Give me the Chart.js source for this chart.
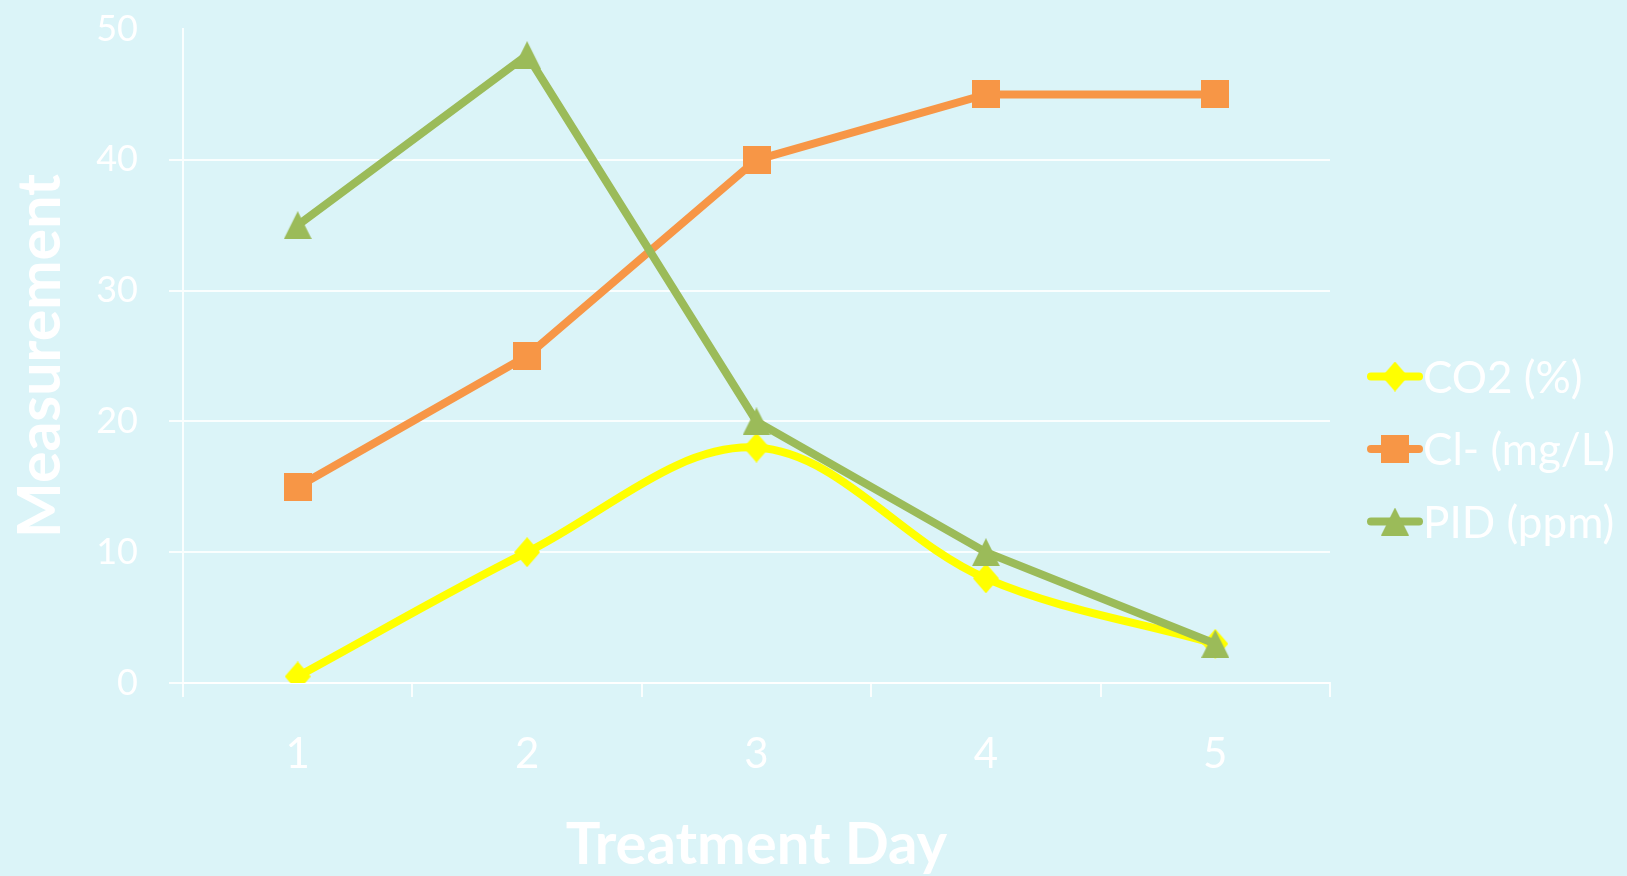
<!DOCTYPE html>
<html>
<head>
<meta charset="utf-8">
<script src="https://cdn.jsdelivr.net/npm/chart.js@4.4.1/dist/chart.umd.min.js"></script>
<style>
  html, body { margin: 0; padding: 0; background: #DBF4F8; }
  #wrap { width: 1627px; height: 876px; }
</style>
</head>
<body>
<div id="wrap"><canvas id="chart" width="1627" height="876"></canvas></div>
<script>
// Treatment days on the x axis
const days = ['1', '2', '3', '4', '5'];
// Measurements per day
const co2Percent = [0.5, 10, 18, 8, 3];
const chlorideMgL = [15, 25, 40, 45, 45];
const pidPpm = [35, 48, 20, 10, 3];
// Series names
const seriesNames = ['CO2 (%)', 'Cl- (mg/L)', 'PID (ppm)'];
// Value axis range
const yMin = 0, yMax = 50, yStep = 10;

const BG = '#DBF4F8';
const GRID = 'rgba(255,255,255,0.85)';
const TEXT = '#FFFFFF';
const YELLOW = '#FFFF00';
const ORANGE = '#F79646';
const GREEN = '#9BBB59';
const LINE_W = 8;

Chart.defaults.font.family = 'Lato, "Open Sans", sans-serif';

// Filled marker shapes drawn on small canvases, centred on each point
function marker(shape, w, h, color) {
  const c = document.createElement('canvas');
  c.width = w; c.height = h;
  const g = c.getContext('2d');
  g.fillStyle = color;
  g.beginPath();
  if (shape === 'diamond') {
    g.moveTo(w / 2, 0); g.lineTo(w, h / 2); g.lineTo(w / 2, h); g.lineTo(0, h / 2);
  } else if (shape === 'square') {
    g.rect(0, 0, w, h);
  } else {
    g.moveTo(w / 2, 0); g.lineTo(w, h); g.lineTo(0, h);
  }
  g.closePath();
  g.fill();
  return c;
}
const diamondMark = marker('diamond', 26, 30, YELLOW);
const squareMark = marker('square', 28, 28, ORANGE);
const triangleMark = marker('triangle', 28, 28, GREEN);

// Line-and-marker key on the right of the plot
const seriesKey = {
  id: 'seriesKey',
  afterDraw(chart) {
    const ctx = chart.ctx;
    const x0 = chart.chartArea.right + 37;
    const yc = 449;
    const gap = 72.5;
    chart.data.datasets.forEach((ds, i) => {
      const y = yc + (i - 1) * gap;
      ctx.save();
      ctx.strokeStyle = ds.borderColor;
      ctx.lineWidth = ds.borderWidth;
      ctx.lineCap = 'round';
      ctx.beginPath();
      ctx.moveTo(x0 + 4, y);
      ctx.lineTo(x0 + 52, y);
      ctx.stroke();
      Chart.helpers.drawPoint(ctx, { pointStyle: ds.pointStyle, radius: 10, rotation: 0 }, x0 + 28, y);
      ctx.fillStyle = TEXT;
      ctx.font = '44px Lato, "Open Sans", sans-serif';
      ctx.textBaseline = 'middle';
      ctx.textAlign = 'left';
      ctx.fillText(ds.label, x0 + 56, y + 2);
      ctx.restore();
    });
  }
};

const bgPlugin = {
  id: 'bg',
  beforeDraw(chart) {
    const ctx = chart.ctx;
    ctx.save();
    ctx.fillStyle = BG;
    ctx.fillRect(0, 0, chart.width, chart.height);
    ctx.restore();
  }
};

new Chart(document.getElementById('chart'), {
  type: 'line',
  data: {
    labels: days,
    datasets: [
      {
        label: seriesNames[0], data: co2Percent, borderColor: YELLOW, backgroundColor: YELLOW,
        borderWidth: LINE_W, tension: 0.35, pointStyle: diamondMark, pointRadius: 12, order: 3
      },
      {
        label: seriesNames[1], data: chlorideMgL, borderColor: ORANGE, backgroundColor: ORANGE,
        borderWidth: LINE_W, tension: 0, pointStyle: squareMark, pointRadius: 12, order: 2
      },
      {
        label: seriesNames[2], data: pidPpm, borderColor: GREEN, backgroundColor: GREEN,
        borderWidth: LINE_W, tension: 0, pointStyle: triangleMark, pointRadius: 12, order: 1
      }
    ]
  },
  options: {
    responsive: false,
    animation: false,
    devicePixelRatio: 1,
    layout: { padding: { left: 0, right: 297, top: 29, bottom: 0 } },
    plugins: { legend: { display: false }, tooltip: { enabled: false } },
    scales: {
      x: {
        type: 'category',
        offset: true,
        grid: { offset: true, drawOnChartArea: false, drawTicks: true, tickLength: 14, color: GRID, lineWidth: 2 },
        border: { display: true, color: GRID, width: 2 },
        ticks: { color: TEXT, font: { size: 42 }, padding: 32 },
        title: { display: true, text: 'Treatment Day', color: TEXT, font: { size: 58, weight: 'bold' }, padding: { top: 0, bottom: -4 } },
        afterFit(scale) { scale.height = 193; }
      },
      y: {
        min: yMin, max: yMax,
        ticks: { stepSize: yStep, color: TEXT, font: { size: 36 }, padding: 31 },
        grid: {
          drawTicks: true, tickLength: 14, lineWidth: 2,
          color: (c) => (c.tick && c.tick.value === yMax ? 'rgba(0,0,0,0)' : GRID)
        },
        border: { display: true, color: GRID, width: 2 },
        title: { display: true, text: 'Measurement', color: TEXT, font: { size: 59, weight: 'bold' }, padding: { top: 6, bottom: 0 } },
        afterFit(scale) {
          scale.width = 183;
          scale.paddingTop = 0;
          scale.paddingBottom = 0;
        }
      }
    }
  },
  plugins: [bgPlugin, seriesKey]
});
</script>
</body>
</html>
